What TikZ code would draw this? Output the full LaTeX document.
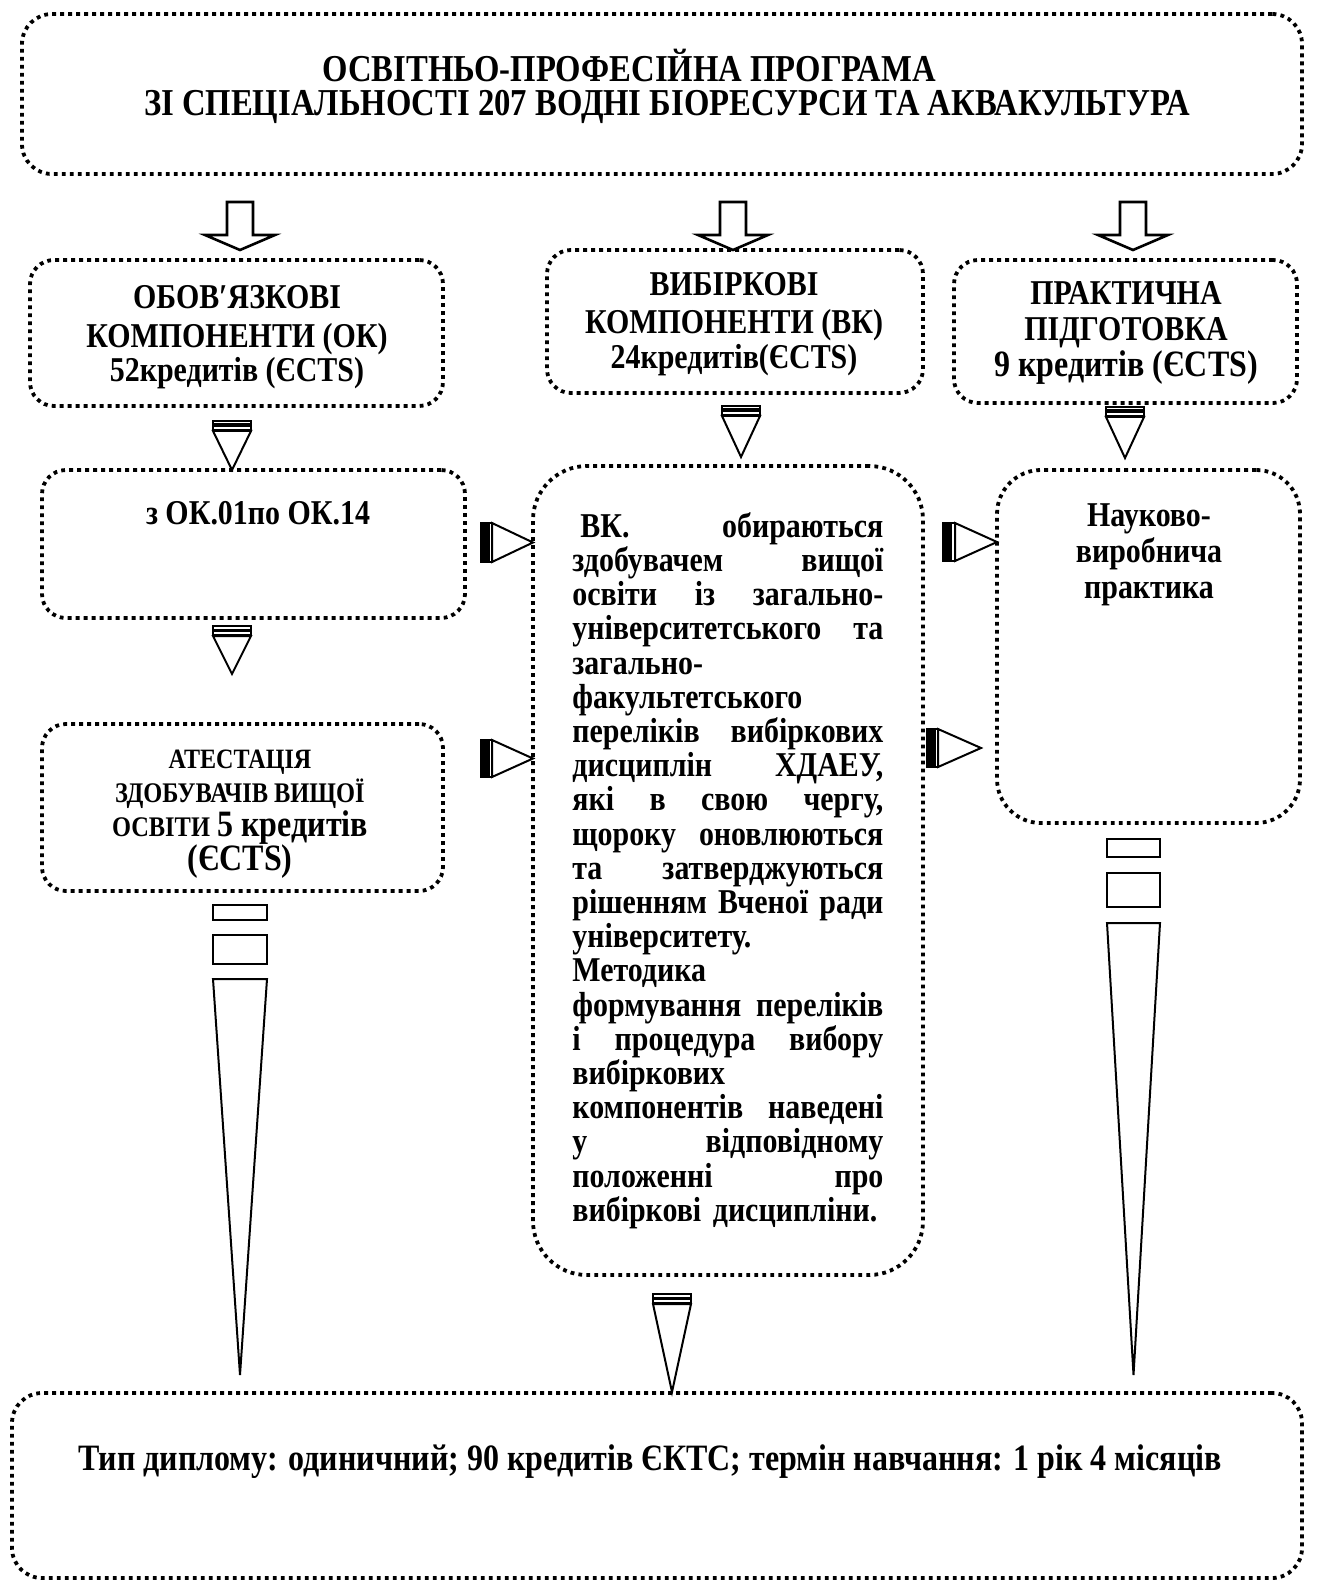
\documentclass[tikz,border=0pt]{standalone}
\usepackage{fontspec}
\setmainfont{Liberation Serif}[FakeStretch=0.86]
\usetikzlibrary{fit}
\newcommand\jline[1]{\makebox[155.5pt][s]{\spaceskip=.25em plus 1fil\relax #1}}
\newcommand\lline[1]{\makebox[155.5pt][l]{#1}}
\newcommand\fsz[1]{\fontsize{#1}{17.1}\selectfont}
\begin{document}
\begin{tikzpicture}[x=0.5pt,y=-0.5pt,
  dotbox/.style={draw, line width=1.9pt, dash pattern=on 1.9pt off 2.1pt, inner sep=0pt},
  txt/.style={font=\fontsize{17.4}{17.1}\selectfont\bfseries, align=center, inner sep=0pt},
  bigtxt/.style={txt, font=\fontsize{19}{17.1}\selectfont\bfseries},
  diptxt/.style={txt, font=\fontsize{18.6}{17.1}\selectfont\bfseries},
  shp/.style={draw, line width=1pt, fill=white, line join=miter},
  blockarrow/.pic={\draw[shp, line width=1.3pt] (-13,0) -- (13,0) -- (13,33) -- (35,33) -- (0,48) -- (-35,33) -- (-13,33) -- cycle;}
]
\useasboundingbox (0,0) rectangle (1323,1582);

% boxes
\node[dotbox, rounded corners=15pt, fit={(22,14) (1302,174)}] (top) {};
\node[dotbox, rounded corners=12pt, fit={(30,260) (443,406)}] (ok) {};
\node[dotbox, rounded corners=12pt, fit={(547,250) (923,393)}] (vk) {};
\node[dotbox, rounded corners=12pt, fit={(954,260) (1297,403)}] (pp) {};
\node[dotbox, rounded corners=12pt, fit={(42,470) (465,618)}] (ok01) {};
\node[dotbox, rounded corners=12pt, fit={(42,724) (443,891)}] (att) {};
\node[dotbox, rounded corners=27pt, fit={(533,466) (923,1275)}] (mid) {};
\node[dotbox, rounded corners=22pt, fit={(997,470) (1300,823)}] (prac) {};
\node[dotbox, rounded corners=15pt, fit={(12,1393) (1302,1578)}] (dip) {};

% block arrows from top box
\pic (a1) at (240,202) {blockarrow};
\pic (a2) at (733,202) {blockarrow};
\pic (a3) at (1133,202) {blockarrow};

% small connectors (double bar + triangle)
\foreach \cx/\yo/\tip in {232/421/470, 741/406/457, 1125/407/458, 232/626/674, 672/1294/1392}{
  \draw[shp] ({\cx-19},\yo) rectangle ({\cx+19},{\yo+3.5});
  \draw[shp] ({\cx-19},{\yo+5}) rectangle ({\cx+19},{\yo+9});
  \draw[shp] ({\cx-19},{\yo+10}) -- ({\cx+19},{\yo+10}) -- (\cx,\tip) -- cycle;
}

% long connectors
\foreach \xa/\xb/\ra/\rb/\rc/\rd/\tt/\tip in {213/267/905/920/935/964/979/1375, 1107/1160/839/857/873/907/923/1375}{
  \draw[shp] (\xa,\ra) rectangle (\xb,\rb);
  \draw[shp] (\xa,\rc) rectangle (\xb,\rd);
  \draw[shp] (\xa,\tt) -- (\xb,\tt) -- ({(\xa+\xb)/2},\tip) -- cycle;
}

% side arrows
\foreach \ba/\bb/\ya/\yb/\tx in {481/492/523/562/533, 481/492/740/777/533, 943/955/523/561/997, 927/938/729/767/981}{
  \draw[shp, fill=black] (\ba,\ya) rectangle ({\ba+6},\yb);
  \draw[shp] ({\ba+8},\ya) rectangle (\bb,\yb);
  \draw[shp] (\bb,\ya) -- (\tx,{(\ya+\yb)/2}) -- (\bb,\yb) -- cycle;
}

% texts
\node[bigtxt] (ttop) at (667,86) {ОСВІТНЬО-ПРОФЕСІЙНА ПРОГРАМА\hspace*{38pt}\\ЗІ СПЕЦІАЛЬНОСТІ 207 ВОДНІ БІОРЕСУРСИ ТА АКВАКУЛЬТУРА};
\node[txt] (tok) at (237,337) {ОБОВ′ЯЗКОВІ\\[2.5pt]КОМПОНЕНТИ (ОК)\\52кредитів (ЄCTS)};
\node[txt] (tvk) at (734,324) {ВИБІРКОВІ\\[2pt]КОМПОНЕНТИ (ВК)\\24кредитів(ЄCTS)};
\node[txt] (tpp) at (1126,333) {ПРАКТИЧНА\\[1pt]ПІДГОТОВКА\\[1pt]{\fsz{18.6}9 кредитів (ЄCTS)}};
\node[txt] (tok01) at (258,513) {з ОК.01по ОК.14};
\node[txt] (tprac) at (1149,555) {Науково-\\[1pt]виробнича\\[1pt]практика};
\node[txt] (tatt) at (240,814) {{\fsz{14}АТЕСТАЦІЯ}\\{\fsz{14.2}ЗДОБУВАЧІВ ВИЩОЇ}\\{\fsz{14.2}ОСВІТИ} {\fsz{18.6}5 кредитів}\\{\fsz{18.6}(ЄCTS)}};
\node[txt, align=left, text width=155.5pt, anchor=north west] (tmid) at (572,512) {%
\jline{\hspace*{4pt}ВК. обираються}\\
\jline{здобувачем вищої}\\
\jline{освіти із загально-}\\
\jline{університетського та}\\
\lline{загально-}\\
\lline{факультетського}\\
\jline{переліків вибіркових}\\
\jline{дисциплін ХДАЕУ,}\\
\jline{які в свою чергу,}\\
\jline{щороку оновлюються}\\
\jline{та затверджуються}\\
\jline{рішенням Вченої ради}\\
\lline{університету.}\\
\lline{Методика}\\
\jline{формування переліків}\\
\jline{і процедура вибору}\\
\lline{вибіркових}\\
\jline{компонентів наведені}\\
\jline{у відповідному}\\
\jline{положенні про}\\
\lline{вибіркові дисципліни.}};
\node[diptxt] (tdip) at (650,1462) {Тип диплому: одиничний; 90 кредитів ЄКТС; термін навчання: 1 рік 4 місяців};
\end{tikzpicture}
\end{document}
